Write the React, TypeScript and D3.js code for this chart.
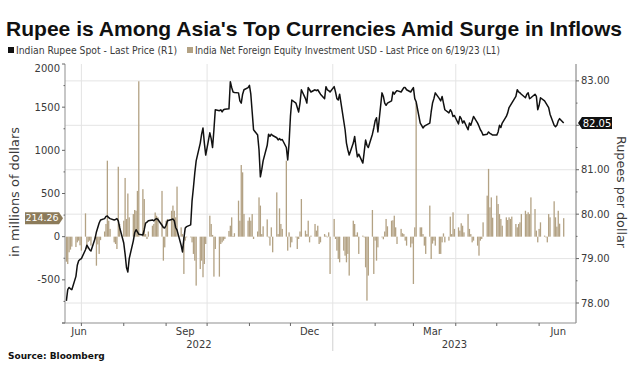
import * as d3 from "d3";

const W = 635;
const H = 373;
const PLOT = { left: 65, right: 576, top: 64, bottom: 323 };

const BAR_COLOR = "#b3a284";
const LABEL_TAN = "#8c7b5a";
const GRID = "#e4e4e4";
const AXIS = "#8f8f8f";
const TEXT = "#3a3a3a";

// first trading day of the window, one value per weekday after it
const FIRST_DAY = new Date(2022, 5, 20);
const DOMAIN = [new Date(2022, 5, 19), new Date(2023, 5, 28)];

// Indian Rupee Spot (R1), rupees per dollar, week by week
const rupeeSpot = [
  78.05, 78.3, 78.35, 78.32, 78.3,
  78.6, 78.85, 78.95, 78.98, 79.0,
  79.2, 79.3, 79.25, 79.2, 79.17,
  79.45, 79.6, 79.7, 79.8, 79.87,
  79.9, 79.95, 79.96, 79.92, 79.9,
  79.87, 79.88, 79.9, 79.85, 79.7,
  79.35, 79.1, 78.8, 78.7, 79.0,
  79.4, 79.58, 79.65, 79.6, 79.55,
  79.53, 79.65, 79.8, 79.82, 79.85,
  79.87, 79.85, 79.88, 79.9, 79.88,
  79.75, 79.7, 79.69, 79.75, 79.85,
  79.88, 79.89, 79.85, 79.7, 79.64,
  79.3, 79.15, 79.45, 79.69, 79.72,
  79.76, 80.3, 80.6, 80.93, 81.2,
  81.6, 81.8, 81.94, 81.6, 81.33,
  81.83, 81.7, 81.5, 81.9, 82.35,
  82.33, 82.35, 82.3, 82.35, 82.36,
  82.37, 82.98, 82.85, 82.75, 82.74,
  82.73, 82.55, 82.5, 82.7, 82.8,
  82.85, 82.9, 82.7, 82.3, 81.9,
  81.78, 81.45, 80.84, 81.0, 81.2,
  81.55, 81.8, 81.75, 81.8, 81.77,
  81.72, 81.67, 81.7, 81.67, 81.68,
  81.5, 81.22, 81.6, 82.2, 82.57,
  82.5, 82.4, 82.3, 82.5, 82.8,
  82.6, 82.5, 82.85, 82.8, 82.75,
  82.8, 82.78, 82.8, 82.75, 82.7,
  82.6, 82.87, 82.8, 82.78, 82.75,
  82.87, 82.75, 82.6, 82.57, 82.7,
  82.1, 81.9, 81.6, 81.45, 81.33,
  81.6, 81.75, 81.5, 81.29, 81.35,
  81.15, 81.4, 81.67, 81.55, 81.5,
  81.8, 81.94, 82.1, 82.17, 81.85,
  82.73, 82.65, 82.5, 82.45, 82.5,
  82.55, 82.75, 82.7, 82.75, 82.78,
  82.75, 82.8, 82.85, 82.85, 82.8,
  82.75, 82.8, 82.85, 82.6, 82.53,
  82.05, 82.0, 81.94, 81.98, 82.0,
  82.05, 82.3, 82.5, 82.6, 82.73,
  82.6, 82.55, 82.65, 82.5, 82.35,
  82.28, 82.35, 82.3, 82.2, 82.22,
  82.03, 82.2, 82.15, 82.05, 82.1,
  81.9, 82.05, 82.0, 82.1, 82.2,
  82.05, 81.98, 81.9, 81.85, 81.78,
  81.8, 81.85, 81.82, 81.8, 81.78,
  81.78, 81.85, 82.0, 81.95, 82.05,
  82.2, 82.28, 82.4, 82.45, 82.5,
  82.65, 82.8, 82.75, 82.73, 82.7,
  82.62, 82.7, 82.73, 82.6, 82.62,
  82.7, 82.65, 82.35, 82.45, 82.62,
  82.55, 82.5, 82.45, 82.4, 82.25,
  82.0, 81.97, 82.0, 82.1, 82.15,
  82.05,
];

// India Net Foreign Equity Investment (L1), millions of USD
const equityFlows = [
  -290, -317, -181, -150, -115,
  -120, -66, -46, -100, -162,
  270, -143, -60, -46, -104,
  -20, -336, -90, -200, -40,
  60, 147, 880, 185, 90,
  -66, -85, -143, 810, 147,
  185, 680, 205, 500, 224,
  262, 309, 300, 530, 1800,
  550, 436, 30, -27, 60,
  127, 147, 280, 243, 224,
  530, -278, -124, 185, 205,
  300, 360, 300, 224, 580,
  108, 30, -432, -46, -8,
  -8, -66, -200, -278, -567,
  -375, -278, -470, -317, -85,
  243, 147, 20, -463, -143,
  -463, -85, -66, -46, -27,
  66, 127, 224, 8, 40,
  417, 185, 830, 745, 263,
  185, 224, 185, 262, -27,
  60, 455, 360, 30, 120,
  200, -8, -104, 108, -181,
  513, 30, 328, 147, 90,
  880, -162, 50, -124, -66,
  -8, -143, -27, 60, 436,
  70, 30, 185, -66, 12,
  147, 70, 127, -85, -66,
  30, 12, -8, 50, -432,
  205, -27, -162, -259, -297,
  -162, -220, -297, -200, -451,
  185, 147, 20, 50, -200,
  12, -8, -355, -741, -451,
  309, -432, -46, -278, -124,
  -8, -30, 60, 205, 120,
  185, 190, 243, 108, -85,
  90, 40, 30, -46, -104,
  -124, -80, -548, 108, 1550,
  108, 108, 30, -104, -200,
  360, -259, -80, -46, -104,
  -200, -200, -66, 38, -66,
  -46, 232, 30, 282, 90,
  108, 70, 155, 127, 50,
  262, 90, 30, -66, -46,
  -104, -220, -46, -27, 166,
  475, 785, 340, 455, 220,
  475, 378, 262, 205, 127,
  224, 193, 224, 205, 232,
  147, 108, 147, 166, 262,
  300, 262, 282, 262, 455,
  320, 70, -66, 90, 166,
  12, -8, -66, 262, 224,
  410, 224, 116, 300, 150,
  214.26,
];

const leftTickValues = [-500, 0, 500, 1000, 1500, 2000];
const rightGridValues = [78, 79, 80, 81, 82, 83];
// 82.00 sits behind the last-price tag, so it gets no label
const rightLabelValues = [78, 79, 80, 81, 83];
const monthLabels = ["Jun", "Sep", "Dec", "Mar", "Jun"];
const monthLabelDates = [
  new Date(2022, 5, 15),
  new Date(2022, 8, 15),
  new Date(2022, 11, 15),
  new Date(2023, 2, 15),
  new Date(2023, 5, 15),
];
const yearLabels = ["2022", "2023"];
const lastRupee = "82.05";
const lastFlow = "214.26";

const tradingDays: Date[] = [];
for (let d = FIRST_DAY; tradingDays.length < rupeeSpot.length; d = d3.timeDay.offset(d, 1)) {
  const wd = d.getDay();
  if (wd !== 0 && wd !== 6) tradingDays.push(d);
}

export default function App() {
  const x = d3.scaleTime().domain(DOMAIN).range([PLOT.left, PLOT.right]);
  const yL = d3.scaleLinear().domain([-1000, 2000]).range([PLOT.bottom, PLOT.top]);
  const yR = d3.scaleLinear().domain([77.55, 83.38]).range([PLOT.bottom, PLOT.top]);

  const line = d3
    .line<number>()
    .x((_, i) => x(tradingDays[i]))
    .y((v) => yR(v));

  const months = d3.timeMonth.range(d3.timeMonth.ceil(DOMAIN[0]), DOMAIN[1]);
  const quarters = months.filter((m) => m.getMonth() % 3 === 0);
  const yearStart = new Date(2023, 0, 1);
  const yearCenters = [
    (PLOT.left + x(yearStart)) / 2,
    (x(yearStart) + PLOT.right) / 2,
  ];

  const leftMinor = d3.range(-1000, 2001, 250);
  const rightMinor = d3.range(78, 83.01, 0.5);

  const yFlowLast = yL(equityFlows[equityFlows.length - 1]);
  const yRupeeLast = yR(rupeeSpot[rupeeSpot.length - 1]);

  return (
    <svg
      width={W}
      height={H}
      style={{ position: "absolute", left: 0, top: 0, background: "#fff" }}
      fontFamily="DejaVu Sans, sans-serif"
    >
      {/* title + legend */}
      <text
        x={6}
        y={36}
        fontFamily="Liberation Sans, Arial, sans-serif"
        fontWeight="bold"
        fontSize={21}
        fill="#111"
        textLength={616}
        lengthAdjust="spacingAndGlyphs"
      >
        Rupee is Among Asia's Top Currencies Amid Surge in Inflows
      </text>
      <rect x={8} y={47} width={6} height={6} fill="#111" />
      <text x={16} y={53.5} fontSize={10} fill={TEXT} textLength={161} lengthAdjust="spacingAndGlyphs">
        Indian Rupee Spot - Last Price (R1)
      </text>
      <rect x={187} y={47} width={6} height={6} fill={BAR_COLOR} />
      <text x={195} y={53.5} fontSize={10} fill={TEXT} textLength={305} lengthAdjust="spacingAndGlyphs">
        India Net Foreign Equity Investment USD - Last Price on 6/19/23 (L1)
      </text>

      {/* grid */}
      {rightGridValues.map((v) => (
        <line key={"h" + v} x1={PLOT.left} x2={PLOT.right} y1={yR(v)} y2={yR(v)} stroke={GRID} strokeWidth={1} />
      ))}
      {quarters.map((q) => (
        <line key={"v" + q.getTime()} x1={x(q)} x2={x(q)} y1={PLOT.top} y2={PLOT.bottom} stroke={GRID} strokeWidth={1} />
      ))}

      {/* bars */}
      {equityFlows.map((v, i) => (
        <rect
          key={"b" + i}
          x={x(tradingDays[i]) - 0.65}
          width={1.3}
          y={Math.min(yL(v), yL(0))}
          height={Math.abs(yL(v) - yL(0))}
          fill={BAR_COLOR}
        />
      ))}

      {/* rupee line */}
      <path d={line(rupeeSpot) ?? undefined} fill="none" stroke="#111" strokeWidth={1.5} strokeLinejoin="round" />

      {/* axes */}
      <line x1={PLOT.left} x2={PLOT.left} y1={PLOT.top} y2={PLOT.bottom} stroke={AXIS} />
      <line x1={PLOT.right} x2={PLOT.right} y1={PLOT.top} y2={PLOT.bottom} stroke="#777" />
      <line x1={PLOT.left - 3} x2={PLOT.right} y1={PLOT.bottom} y2={PLOT.bottom} stroke={AXIS} />

      {leftMinor.map((v) => (
        <line key={"lm" + v} x1={PLOT.left - (v % 500 === 0 ? 3 : 1.5)} x2={PLOT.left} y1={yL(v)} y2={yL(v)} stroke="#666" />
      ))}
      {leftTickValues.map((v) => (
        <text
          key={"lt" + v}
          x={PLOT.left - 5}
          y={Math.max(yL(v), 68)}
          dy="0.35em"
          textAnchor="end"
          fontSize={10}
          fill={TEXT}
        >
          {v}
        </text>
      ))}

      {rightMinor.map((v) => (
        <line key={"rm" + v} x1={PLOT.right} x2={PLOT.right + (v % 1 === 0 ? 3 : 1.5)} y1={yR(v)} y2={yR(v)} stroke="#666" />
      ))}
      {rightLabelValues.map((v) => (
        <text key={"rt" + v} x={PLOT.right + 5} y={yR(v)} dy="0.35em" fontSize={10} fill={TEXT}>
          {v.toFixed(2)}
        </text>
      ))}

      {months.map((m) => (
        <line key={"mt" + m.getTime()} x1={x(m)} x2={x(m)} y1={PLOT.bottom} y2={PLOT.bottom + 3} stroke="#666" />
      ))}
      {monthLabels.map((label, i) => (
        <text
          key={"ml" + i}
          x={Math.max(x(monthLabelDates[i]), PLOT.left + 14)}
          y={335}
          textAnchor="middle"
          fontSize={10}
          fill={TEXT}
        >
          {label}
        </text>
      ))}
      <line x1={x(yearStart)} x2={x(yearStart)} y1={PLOT.bottom + 4} y2={351} stroke="#d0d0d0" />
      {yearLabels.map((label, i) => (
        <text key={"yl" + label} x={yearCenters[i]} y={348} textAnchor="middle" fontSize={10} fill={TEXT}>
          {label}
        </text>
      ))}

      {/* axis titles */}
      <text
        transform="translate(19,192) rotate(-90)"
        textAnchor="middle"
        fontSize={13}
        fill={TEXT}
        textLength={130}
        lengthAdjust="spacingAndGlyphs"
      >
        in millions of dollars
      </text>
      <text
        transform="translate(617,192) rotate(90)"
        textAnchor="middle"
        fontSize={13}
        fill={TEXT}
        textLength={112}
        lengthAdjust="spacingAndGlyphs"
      >
        Rupees per dollar
      </text>

      {/* last value tags */}
      <polygon
        points={`25,${yFlowLast - 6} 59,${yFlowLast - 6} 63,${yFlowLast} 59,${yFlowLast + 6} 25,${yFlowLast + 6}`}
        fill={LABEL_TAN}
      />
      <text x={42} y={yFlowLast} dy="0.35em" textAnchor="middle" fontSize={9.5} fill="#fff">
        {lastFlow}
      </text>
      <polygon
        points={`578,${yRupeeLast} 582,${yRupeeLast - 6} 612,${yRupeeLast - 6} 612,${yRupeeLast + 6} 582,${yRupeeLast + 6}`}
        fill="#111"
      />
      <text x={597} y={yRupeeLast} dy="0.35em" textAnchor="middle" fontSize={10} fill="#fff">
        {lastRupee}
      </text>

      <text x={8} y={359} fontSize={9} fontWeight="bold" fill="#111">
        Source: Bloomberg
      </text>
    </svg>
  );
}
